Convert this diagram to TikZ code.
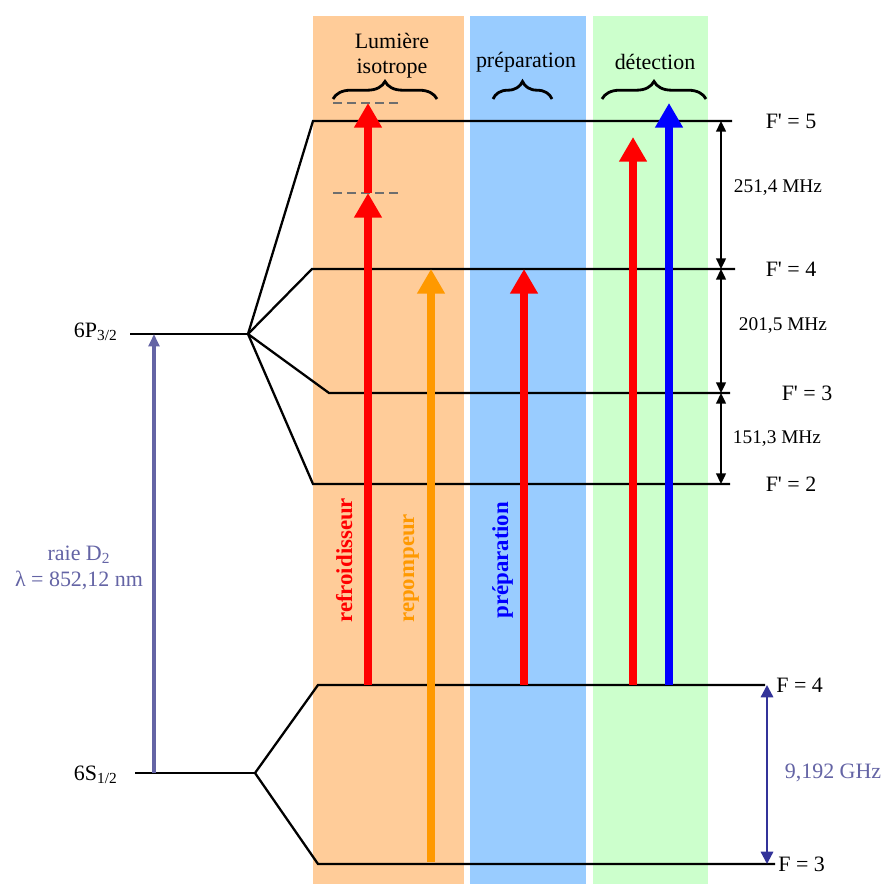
\documentclass[tikz,border=0pt]{standalone}
\usepackage{fontspec}
\setmainfont{Liberation Serif}
\usetikzlibrary{arrows.meta, positioning, decorations.pathreplacing}
\definecolor{bandorange}{RGB}{255,204,153}
\definecolor{bandblue}{RGB}{153,204,255}
\definecolor{bandgreen}{RGB}{204,255,204}
\definecolor{laserorange}{RGB}{255,153,0}
\definecolor{slateblue}{RGB}{100,100,165}
\definecolor{darkslate}{RGB}{51,51,153}
\definecolor{dashgrey}{RGB}{110,110,110}

\tikzset{
  levelline/.style={line width=1.3pt, black},
  laser/.style={line width=4.6pt, -{Triangle[width=15pt,length=14pt]}},
  gapline/.style={line width=1.1pt, {Triangle[width=5.5pt,length=6pt]}-{Triangle[width=5.5pt,length=6pt]}},
  lbl/.style={font=\fontsize{12.5}{14}\selectfont, inner sep=0pt},
  small/.style={font=\fontsize{11}{13}\selectfont, inner sep=0pt},
  beamlbl/.style={font=\fontsize{13}{15}\selectfont\bfseries, rotate=90, anchor=base west, inner sep=0pt},
  bracebox/.style={decorate, decoration={brace, amplitude=10pt}, line width=1.6pt},
  dashline/.style={dashgrey, line width=1.1pt, dash pattern=on 5pt off 3pt}
}

\begin{document}
\begin{tikzpicture}[x=0.02cm, y=-0.02cm]
  \fill[white] (0,0) rectangle (884,884);
  \useasboundingbox (0,0) rectangle (884,884);

  % bands
  \fill[bandorange] (313,16) rectangle (464,884);
  \fill[bandblue] (470,16) rectangle (586,884);
  \fill[bandgreen] (593,16) rectangle (708,884);

  % fine structure
  \coordinate (Pk) at (248,334);
  \coordinate (Sk) at (255,773);
  \coordinate (p5) at (313,121);  \coordinate (p5e) at (732,121);
  \coordinate (p4) at (312,269);  \coordinate (p4e) at (735,269);
  \coordinate (p3) at (329,393);  \coordinate (p3e) at (730,393);
  \coordinate (p2) at (313,484);  \coordinate (p2e) at (730,484);
  \coordinate (s4) at (318,685);  \coordinate (s4e) at (765,685);
  \coordinate (s3) at (318,864);  \coordinate (s3e) at (775,864);

  \node[lbl, anchor=east] (P32) at (118,332) {6P\textsubscript{3/2}};
  \node[lbl, anchor=east] (S12) at (118,775) {6S\textsubscript{1/2}};
  \coordinate (Pst) at (130,334);
  \coordinate (Sst) at (135,773);
  \draw[line width=0.8pt] (Pst) -- (Pk);
  \draw[levelline] (Sst) -- (Sk);

  \foreach \lv in {p5,p4,p3,p2}
    \draw[levelline] (Pk) -- (\lv) -- (\lv e);
  \foreach \lv in {s4,s3}
    \draw[levelline] (Sk) -- (\lv) -- (\lv e);

  % D2 line
  \coordinate (d2a) at (154,773);
  \coordinate (d2b) at (154,334);
  \draw[slateblue, line width=2.2pt, -{Triangle[width=6pt,length=7pt]}] (d2a) -- (d2b);
  \node[lbl, text=slateblue, align=center] (raie) at (79,568)
    {raie D\textsubscript{2}\\[1pt]λ = 852,12 nm};

  % right labels
  \node[lbl] (f5) at (791,121) {F\textquotesingle\ = 5};
  \node[lbl] (f4) at (791,269) {F\textquotesingle\ = 4};
  \node[lbl] (f3) at (807,393) {F\textquotesingle\ = 3};
  \node[lbl] (f2) at (791,484) {F\textquotesingle\ = 2};
  \node[lbl, anchor=west] (g4) at (776,685) {F = 4};
  \node[lbl, anchor=west] (g3) at (778,864) {F = 3};

  \coordinate (k5) at (721,121);
  \coordinate (k4) at (721,269);
  \coordinate (k3) at (721,393);
  \coordinate (k2) at (721,484);
  \draw[gapline] (k5) -- (k4);
  \draw[gapline] (k4) -- (k3);
  \draw[gapline] (k3) -- (k2);
  \node[small] (m54) at (778,188) {251,4 MHz};
  \node[small] (m43) at (783,326) {201,5 MHz};
  \node[small] (m32) at (777,439) {151,3 MHz};

  \coordinate (h4) at (767,685);
  \coordinate (h3) at (767,864);
  \draw[darkslate, line width=1.3pt, {Triangle[width=7pt,length=7pt]}-{Triangle[width=7pt,length=7pt]}] (h4) -- (h3);
  \node[lbl, text=slateblue] (ghz) at (833,773) {9,192 GHz};

  % lasers
  \coordinate (rBot) at (368,685);
  \coordinate (rMid) at (368,193);
  \coordinate (rTop) at (368,103);
  \draw[dashline] (333,103) -- (403,103);
  \draw[dashline] (333,193) -- (403,193);
  \draw[laser, red] (rBot) -- (rMid);
  \draw[laser, red] (rMid) -- (rTop);
  \draw[laser, laserorange] (431,862) -- (431,269);
  \draw[laser, red] (524,685) -- (524,269);
  \draw[laser, red] (633,685) -- (633,137);
  \draw[laser, blue] (669,685) -- (669,103);

  \node[beamlbl, text=red] (refr) at (352,623) {refroidisseur};
  \node[beamlbl, text=laserorange] (repo) at (414,623) {repompeur};
  \node[beamlbl, text=blue] (prepl) at (508,619) {préparation};

  % top labels
  \node[lbl, align=center] (lum) at (392,56) {Lumière\\isotrope};
  \node[lbl] (prep) at (526,62) {préparation};
  \node[lbl] (det) at (655,62) {détection};
  \draw[bracebox] (333,99) -- (437,99);
  \draw[bracebox] (493,99) -- (552,99);
  \draw[bracebox] (602,99) -- (706,99);
\end{tikzpicture}
\end{document}
